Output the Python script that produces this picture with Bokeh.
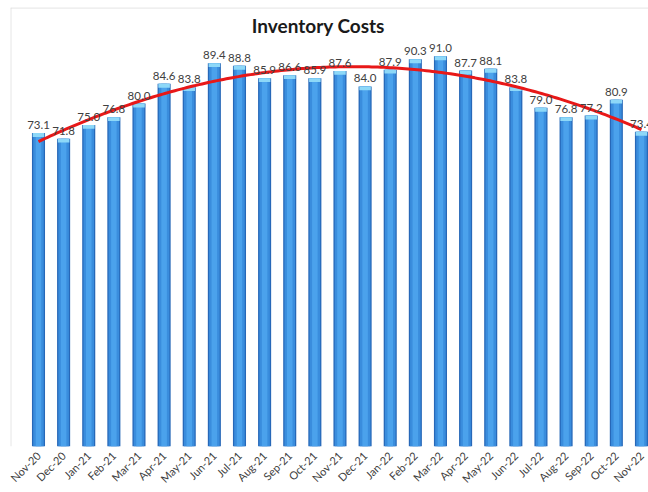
import numpy as np
from math import pi
from bokeh.plotting import figure
from bokeh.models import Range1d, FixedTicker, Label, Span, ColumnDataSource
from bokeh.core.properties import value
from bokeh.embed import file_html
from bokeh.resources import INLINE

months = ["Nov-20", "Dec-20", "Jan-21", "Feb-21", "Mar-21", "Apr-21", "May-21",
          "Jun-21", "Jul-21", "Aug-21", "Sep-21", "Oct-21", "Nov-21", "Dec-21",
          "Jan-22", "Feb-22", "Mar-22", "Apr-22", "May-22", "Jun-22", "Jul-22",
          "Aug-22", "Sep-22", "Oct-22", "Nov-22"]
costs = [73.1, 71.8, 75.0, 76.8, 80.0, 84.6, 83.8, 89.4, 88.8, 85.9, 86.6, 85.9,
         87.6, 84.0, 87.9, 90.3, 91.0, 87.7, 88.1, 83.8, 79.0, 76.8, 77.2, 80.9, 73.4]
title_text = "Inventory Costs"

idx = np.arange(len(months))
vals = np.array(costs)
src = ColumnDataSource(dict(x=idx, top=vals, cap_bottom=vals - 0.9,
                            lab=[f"{v:.1f}" for v in costs]))

W, H = 648, 492
p = figure(width=W, height=H, output_backend="svg", toolbar_location=None,
           x_range=Range1d(-1.114, 24.28), y_range=Range1d(0, 102.4),
           min_border_left=10, min_border_right=0, min_border_top=7,
           min_border_bottom=45)
p.outline_line_color = None
p.background_fill_color = "white"
p.border_fill_color = "white"
p.grid.visible = False
p.yaxis.visible = False

ax = p.xaxis[0]
ax.ticker = FixedTicker(ticks=list(idx))
ax.major_label_overrides = {int(i): m for i, m in zip(idx, months)}
ax.major_label_orientation = pi / 4
ax.axis_line_color = None
ax.major_tick_line_color = None
ax.minor_tick_line_color = None
ax.major_label_text_font = "Lato"
ax.major_label_text_font_size = "11px"
ax.major_label_text_color = "#404040"
ax.major_label_standoff = 1

# chart border (top and left)
p.add_layout(Span(location=102.3, dimension="width", line_color="#d9d9d9", line_width=1))
p.add_layout(Span(location=-1.10, dimension="height", line_color="#d9d9d9", line_width=1))

# 3D-ish cylinder bars
p.vbar(x="x", top="top", bottom=0, width=0.52, source=src, fill_color="#2768b8", line_color=None)
p.vbar(x="x", top="top", bottom=0, width=0.42, source=src, fill_color="#3a8ddd", line_color=None)
p.vbar(x="x", top="top", bottom=0, width=0.22, source=src, fill_color="#4ba2ec", line_color=None)
p.vbar(x="x", top="top", bottom="cap_bottom", width=0.46, source=src, fill_color="#8dd8f8", line_color=None)

# polynomial (order 2) trendline fitted to the data, as the spreadsheet does
coef = np.polyfit(idx, vals, 2)
xs = np.linspace(0, len(months) - 1, 200)
p.line(xs, np.polyval(coef, xs), line_color="#e81818", line_width=3)

# data labels
p.text(x="x", y="top", text="lab", source=src, text_align="center", text_baseline="bottom",
       y_offset=-4, text_font=value("Lato"), text_font_size="11.5px", text_color="#404040")

p.add_layout(Label(x=11.14, y=98.2, text=title_text, text_align="center", text_baseline="middle",
                   text_font="Lato", text_font_style="bold", text_font_size="19px",
                   text_color="#1a1a1a"))

open("out.html", "w").write(file_html(p, INLINE))
